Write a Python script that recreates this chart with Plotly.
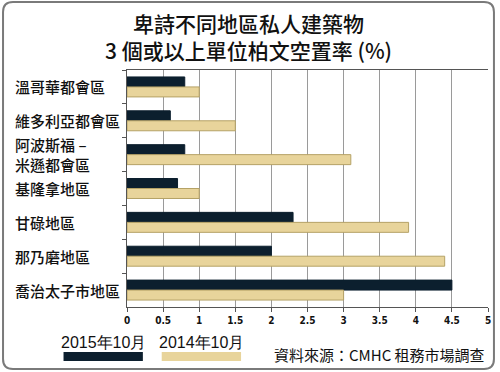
import plotly.graph_objects as go

categories = ["溫哥華都會區", "維多利亞都會區", "阿波斯福 –<br>米遜都會區", "基隆拿地區",
              "甘碌地區", "那乃磨地區", "喬治太子市地區"]
series_names = ["2015年10月", "2014年10月"]
vals_2015 = [0.8, 0.6, 0.8, 0.7, 2.3, 2.0, 4.5]
vals_2014 = [1.0, 1.5, 3.1, 1.0, 3.9, 4.4, 3.0]
x_ticks = [0, 0.5, 1, 1.5, 2, 2.5, 3, 3.5, 4, 4.5, 5]
x_tick_text = ["0", "0.5", "1", "1.5", "2", "2.5", "3", "3.5", "4", "4.5", "5"]
title_lines = ["卑詩不同地區私人建築物", "3 個或以上單位柏文空置率 (%)"]
source_text = "資料來源：CMHC 租務市場調查"

W, H = 500, 372
L, R, T, B = 127, 491, 70, 307
pw, ph = R - L, B - T

def px(x):
    return (x - L) / pw

def py(y):
    return (B - y) / ph

dark = "#0c1f2e"
tan = "#e8d49b"
tan_line = "#b5a266"
cjk = "Noto Sans CJK TC"

fig = go.Figure()
fig.add_trace(go.Bar(y=categories, x=vals_2015, orientation="h", name=series_names[0],
                     marker=dict(color=dark, line=dict(color=dark, width=1))))
fig.add_trace(go.Bar(y=categories, x=vals_2014, orientation="h", name=series_names[1],
                     marker=dict(color=tan, line=dict(color=tan_line, width=1))))

fig.update_layout(
    width=W, height=H,
    margin=dict(l=L, r=W - R, t=T, b=H - B, pad=0),
    paper_bgcolor="white", plot_bgcolor="white",
    barmode="group", bargap=0.41, bargroupgap=0,
    showlegend=False,
    font=dict(family=cjk, color="#111"),
    xaxis=dict(range=[0, 5], tickvals=x_ticks, ticktext=x_tick_text,
               showgrid=True, gridcolor="#9a9a9a", gridwidth=1,
               showline=True, linecolor="#555", linewidth=1, mirror=True,
               ticks="outside", ticklen=4, tickcolor="#555",
               tickfont=dict(family="DejaVu Sans Condensed, DejaVu Sans", size=10, color="#111", weight="bold"),
               zeroline=False, fixedrange=True),
    yaxis=dict(categoryorder="array", categoryarray=categories, autorange="reversed",
               showticklabels=False, ticks="outside", tickson="boundaries", ticklen=4,
               tickcolor="#555", showline=True, linecolor="#555", linewidth=1,
               showgrid=False, fixedrange=True),
)

# outer rounded frame
x0, x1, y0, y1, r = 2, 497, 2, 369, 10
path = (f"M {px(x0 + r)},{py(y0)} L {px(x1 - r)},{py(y0)} Q {px(x1)},{py(y0)} {px(x1)},{py(y0 + r)} "
        f"L {px(x1)},{py(y1 - r)} Q {px(x1)},{py(y1)} {px(x1 - r)},{py(y1)} "
        f"L {px(x0 + r)},{py(y1)} Q {px(x0)},{py(y1)} {px(x0)},{py(y1 - r)} "
        f"L {px(x0)},{py(y0 + r)} Q {px(x0)},{py(y0)} {px(x0 + r)},{py(y0)} Z")
fig.add_shape(type="path", path=path, xref="paper", yref="paper",
              line=dict(color="#7a7a7a", width=2), layer="below")

# title (two lines in one annotation)
fig.add_annotation(text="<br>".join(title_lines), x=px(250), y=py(37), xref="paper", yref="paper",
                   showarrow=False, xanchor="center", yanchor="middle", align="center",
                   font=dict(family=cjk, size=21, color="#111", weight=500))

# category labels, left aligned
for i, cat in enumerate(categories):
    cy = T + ph * (i + 0.5) / len(categories)
    fig.add_annotation(text=cat, x=px(12), y=py(cy), xref="paper", yref="paper",
                       showarrow=False, xanchor="left", yanchor="middle", align="left",
                       font=dict(family=cjk, size=15, color="#111", weight=500))

# legend (text above swatch)
colors = [dark, tan]
lines = [dark, tan_line]
for i, name in enumerate(series_names):
    lx = 63 + 99 * i
    fig.add_annotation(text=name, x=px(lx + 40), y=py(342), xref="paper", yref="paper",
                       showarrow=False, xanchor="center", yanchor="middle",
                       font=dict(family="Liberation Sans", size=16, color="#111"))
    fig.add_shape(type="rect", xref="paper", yref="paper",
                  x0=px(lx), x1=px(lx + 80), y0=py(361), y1=py(352),
                  fillcolor=colors[i], line=dict(color=lines[i], width=0))

fig.add_annotation(text=source_text, x=px(490), y=py(354), xref="paper", yref="paper",
                   showarrow=False, xanchor="right", yanchor="middle",
                   font=dict(family=cjk, size=15, color="#111"))

fig.write_html("out.html", config={"displayModeBar": False},
               post_script="document.body.style.margin='0';document.body.style.overflow='hidden';")
